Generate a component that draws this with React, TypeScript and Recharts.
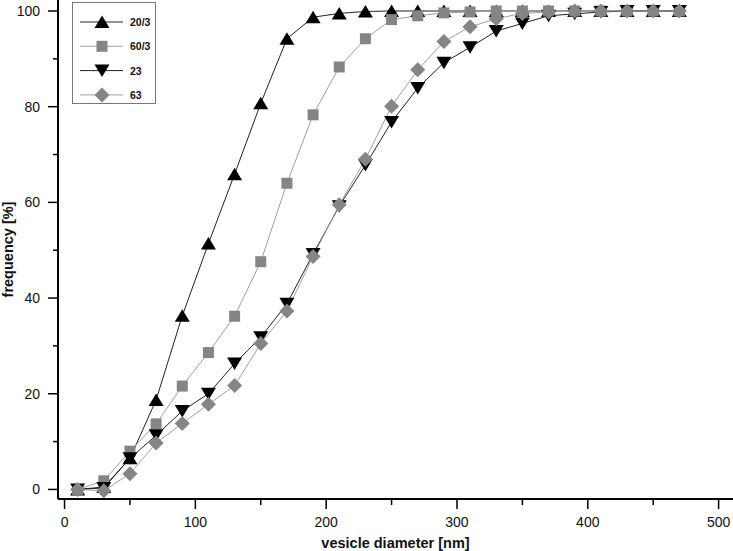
import { LineChart, Line, XAxis, YAxis, Legend, Label } from "recharts";

// ─── Data ────────────────────────────────────────────────────────────────────

const DIAMETERS = [
  10, 30, 50, 70, 90, 110, 130, 150, 170, 190, 210, 230, 250, 270, 290, 310,
  330, 350, 370, 390, 410, 430, 450, 470,
];

const FREQ_20_3 = [
  0, 0.5, 6.5, 18.7, 36.3, 51.4, 65.9, 80.7, 94.2, 98.7, 99.5, 99.9, 100, 100,
  100, 100, 100, 100, 100, 100, 100, 100, 100, 100,
];

const FREQ_60_3 = [
  0, 1.8, 8.0, 13.7, 21.6, 28.6, 36.2, 47.6, 64.0, 78.3, 88.3, 94.2, 98.2,
  99.0, 99.6, 99.8, 100, 100, 100, 100, 100, 100, 100, 100,
];

const FREQ_23 = [
  0, 0.3, 6.5, 11.3, 16.4, 20.0, 26.3, 31.8, 38.8, 49.2, 59.2, 67.8, 76.8,
  83.9, 89.2, 92.4, 95.8, 97.4, 99.0, 99.4, 99.8, 100, 100, 100,
];

const FREQ_63 = [
  0, -0.3, 3.3, 9.7, 13.8, 17.8, 21.7, 30.5, 37.3, 48.7, 59.5, 69.0, 80.1,
  87.7, 93.6, 96.7, 98.4, 99.5, 99.8, 100, 100, 100, 100, 100,
];

const X_TICKS = [0, 50, 100, 150, 200, 250, 300, 350, 400, 450, 500];
const Y_TICKS = [0, 10, 20, 30, 40, 50, 60, 70, 80, 90, 100];

type MarkerKind = "up" | "square" | "down" | "diamond";

const SERIES: {
  key: string;
  name: string;
  values: number[];
  marker: MarkerKind;
  fill: string;
  line: string;
}[] = [
  { key: "s20_3", name: "20/3", values: FREQ_20_3, marker: "up", fill: "#000", line: "#222" },
  { key: "s60_3", name: "60/3", values: FREQ_60_3, marker: "square", fill: "#858585", line: "#a0a0a0" },
  { key: "s23", name: "23", values: FREQ_23, marker: "down", fill: "#000", line: "#222" },
  { key: "s63", name: "63", values: FREQ_63, marker: "diamond", fill: "#858585", line: "#a0a0a0" },
];

const rows = DIAMETERS.map((d, i) => {
  const row: Record<string, number> = { d };
  SERIES.forEach((s) => (row[s.key] = s.values[i]));
  return row;
});

const FONT = "'Liberation Sans', Arial, sans-serif";

// ─── Markers ─────────────────────────────────────────────────────────────────

function Marker({ cx, cy, kind, fill }: { cx: number; cy: number; kind: MarkerKind; fill: string }) {
  if (kind === "up")
    return <polygon points={`${cx},${cy - 6.5} ${cx + 7.5},${cy + 6} ${cx - 7.5},${cy + 6}`} fill={fill} />;
  if (kind === "down")
    return <polygon points={`${cx},${cy + 6.5} ${cx + 7.5},${cy - 6} ${cx - 7.5},${cy - 6}`} fill={fill} />;
  if (kind === "square") return <rect x={cx - 5.5} y={cy - 5.5} width={11} height={11} fill={fill} />;
  return <polygon points={`${cx},${cy - 7.5} ${cx + 7.5},${cy} ${cx},${cy + 7.5} ${cx - 7.5},${cy}`} fill={fill} />;
}

// ─── Ticks ───────────────────────────────────────────────────────────────────

function XTick({ x, y, payload }: any) {
  const major = payload.value % 100 === 0;
  return (
    <g>
      <line x1={x} x2={x} y1={y} y2={y + (major ? 10 : 6)} stroke="#000" strokeWidth={1.5} />
      {major && (
        <text x={x} y={y + 28} textAnchor="middle" fontSize={14} fontFamily={FONT} fill="#111">
          {payload.value}
        </text>
      )}
    </g>
  );
}

function YTick({ x, y, payload }: any) {
  const major = payload.value % 20 === 0;
  return (
    <g>
      <line x1={x} x2={x - (major ? 10 : 5)} y1={y} y2={y} stroke="#000" strokeWidth={1.5} />
      {major && (
        <text x={40} y={y + 5} textAnchor="end" fontSize={14} fontFamily={FONT} fill="#111">
          {payload.value}
        </text>
      )}
    </g>
  );
}

// ─── Legend ──────────────────────────────────────────────────────────────────

function LegendBox() {
  return (
    <svg width={85} height={103}>
      <rect x={0.5} y={0.5} width={83} height={101} fill="#fff" stroke="#777" />
      {SERIES.map((s, i) => {
        const cy = 20 + i * 24.3;
        return (
          <g key={s.key}>
            <line x1={8} x2={51} y1={cy} y2={cy} stroke={s.line} strokeWidth={1} />
            <Marker cx={30} cy={cy} kind={s.marker} fill={s.fill} />
            <text x={58} y={cy + 4} fontSize={10.5} fontWeight="bold" fontFamily={FONT} fill="#111">
              {s.name}
            </text>
          </g>
        );
      })}
    </svg>
  );
}

// ─── Chart ───────────────────────────────────────────────────────────────────

export default function App() {
  return (
    <div style={{ position: "absolute", left: 0, top: 0, background: "#fff" }}>
      <LineChart width={733} height={551} data={rows} margin={{ top: 0, right: 0, left: 0, bottom: 0 }}>
        <XAxis
          dataKey="d"
          type="number"
          domain={[-5, 511]}
          allowDataOverflow
          ticks={X_TICKS}
          interval={0}
          height={52}
          tickSize={0}
          tickMargin={0}
          tickLine={false}
          tick={<XTick />}
          stroke="#000"
          strokeWidth={2}
        >
          <Label
            value="vesicle diameter [nm]"
            position="insideBottom"
            offset={3}
            style={{ fontFamily: FONT, fontSize: 14.5, fontWeight: "bold", fill: "#111" }}
          />
        </XAxis>
        <YAxis
          type="number"
          domain={[-2, 102.3]}
          allowDataOverflow
          ticks={Y_TICKS}
          interval={0}
          width={58}
          tickSize={0}
          tickMargin={0}
          tickLine={false}
          tick={<YTick />}
          stroke="#000"
          strokeWidth={2}
        >
          <Label
            value="frequency [%]"
            position="insideLeft"
            angle={-90}
            offset={8}
            style={{ fontFamily: FONT, fontSize: 14.5, fontWeight: "bold", fill: "#111", textAnchor: "middle" }}
          />
        </YAxis>
        <Legend
          layout="vertical"
          align="center"
          verticalAlign="middle"
          wrapperStyle={{ left: 72, top: 2, width: 85, height: 103 }}
          content={() => <LegendBox />}
        />
        {SERIES.map((s) => (
          <Line
            key={s.key}
            dataKey={s.key}
            name={s.name}
            type="linear"
            stroke={s.line}
            strokeWidth={1}
            isAnimationActive={false}
            activeDot={false}
            dot={(p: any) => <Marker key={`${s.key}-${p.index}`} cx={p.cx} cy={p.cy} kind={s.marker} fill={s.fill} />}
          />
        ))}
      </LineChart>
    </div>
  );
}
